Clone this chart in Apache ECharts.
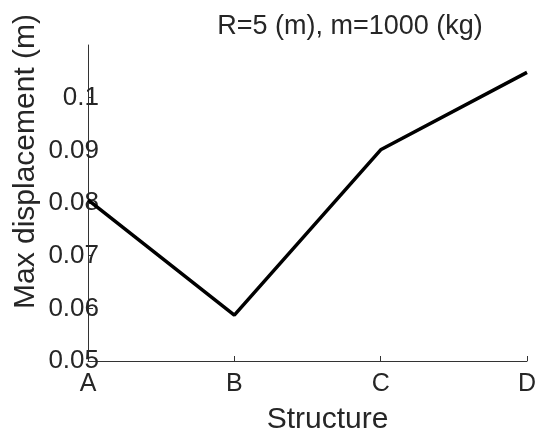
<!DOCTYPE html>
<html>
<head>
<meta charset="utf-8">
<script src="https://cdn.jsdelivr.net/npm/echarts@6/dist/echarts.min.js"></script>
<style>html,body{margin:0;padding:0;background:#fff}#c{width:541px;height:428px}</style>
</head>
<body>
<div id="c"></div>
<script>
const categories = ['A', 'B', 'C', 'D'];
const maxDisplacement = [0.0806, 0.0587, 0.0901, 0.1048];
const yTicks = [0.05, 0.06, 0.07, 0.08, 0.09, 0.1];
const titleText = 'R=5 (m), m=1000 (kg)';
const xName = 'Structure';
const yName = 'Max displacement (m)';

const FONT = '"Liberation Sans", Arial, sans-serif';
const TXT = '#262626';
const chart = echarts.init(document.getElementById('c'), null, {renderer: 'canvas'});
chart.setOption({
  animation: false,
  backgroundColor: '#fff',
  title: {
    text: titleText,
    left: 350, top: 13, padding: 0,
    textAlign: 'center',
    textStyle: {fontFamily: FONT, fontSize: 27, fontWeight: 'normal', color: TXT}
  },
  grid: {left: 88, right: 14, top: 45, bottom: 67, containLabel: false, outerBoundsMode: 'none'},
  xAxis: {
    type: 'category',
    data: categories,
    boundaryGap: false,
    name: xName,
    nameLocation: 'middle',
    nameGap: 44,
    nameMoveOverlap: false,
    nameTextStyle: {fontFamily: FONT, fontSize: 30, color: TXT, padding: [0, 0, 0, 40]},
    axisLine: {lineStyle: {color: '#333', width: 1}},
    axisTick: {inside: true, length: 5, lineStyle: {color: '#333'}},
    axisLabel: {fontFamily: FONT, fontSize: 25, color: TXT, margin: 11},
    splitLine: {show: false}
  },
  yAxis: {
    type: 'value',
    min: 0.05, max: 0.11, interval: 0.01,
    name: yName,
    nameLocation: 'middle',
    nameGap: 47,
    nameMoveOverlap: false,
    nameRotate: 90,
    nameTextStyle: {fontFamily: FONT, fontSize: 30, color: TXT, padding: [0, 0, 0, 83]},
    axisLine: {show: true, lineStyle: {color: '#333', width: 1}},
    axisTick: {show: true, inside: true, length: 5, lineStyle: {color: '#333'}, customValues: yTicks},
    axisLabel: {fontFamily: FONT, fontSize: 26, color: TXT, margin: -11, customValues: yTicks,
      formatter: v => String(parseFloat(v.toFixed(2)))},
    splitLine: {show: false}
  },
  series: [{
    type: 'line',
    data: maxDisplacement,
    symbol: 'none',
    lineStyle: {color: '#000', width: 3.5},
    z: 1
  }]
});
</script>
</body>
</html>
